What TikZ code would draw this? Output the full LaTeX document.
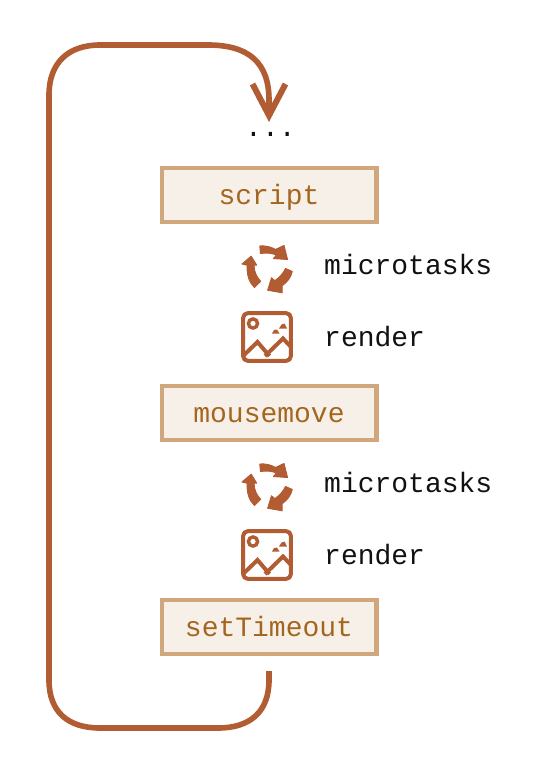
\documentclass[tikz,border=0pt]{standalone}
\usepackage{fontspec}
\setmainfont{Liberation Mono}
\definecolor{loopc}{HTML}{B15C32}
\definecolor{boxfill}{HTML}{F7F0E9}
\definecolor{boxline}{HTML}{D1A67C}
\definecolor{boxtext}{HTML}{A4661F}
\definecolor{labelc}{HTML}{111111}
\tikzset{
  x=1bp,y=-1bp,
  taskbox/.style={draw=boxline,fill=boxfill,line width=4.4bp,minimum width=214.6bp,minimum height=54bp,inner sep=0pt,text=boxtext,font=\fontsize{28bp}{28bp}\selectfont,text height=20bp,text depth=2bp,anchor=center},
  steplabel/.style={anchor=base west,inner sep=0pt,text=labelc,font=\fontsize{28bp}{28bp}\selectfont},
  looppath/.style={draw=loopc,line width=5.6bp},
  iconline/.style={draw=loopc,line width=4bp,line join=round},
  iconshape/.style={fill=loopc,draw=loopc,line width=1bp,line join=round}
}
\newcommand{\cycleicon}[2]{%
  \begin{scope}[shift={(#1,#2)}]
    \path[iconshape] (-6.7,-22) .. controls (-1,-22.5) and (5,-21) .. (9,-18.5) -- (17.5,-22.5) -- (21,-8.5) -- (7,-9.5) -- (10,-13) .. controls (5,-15) and (0,-15.5) .. (-6,-14.5) -- cycle;
    \path[iconshape] (19,0.5) -- (25.8,3.5) .. controls (24.5,9) and (21,14) .. (15.7,17.7) -- (15.7,24.8) -- (1.2,22.2) -- (5,9.8) -- (8.3,12.7) .. controls (13,9.5) and (17,5) .. (19,0.5) -- cycle;
    \path[iconshape] (-15.3,-11.8) -- (-9.8,-2.8) -- (-12.5,-2.8) .. controls (-12.5,4) and (-9.5,9.5) .. (-5.8,13.3) -- (-12,19.5) .. controls (-17,15) and (-20,7) .. (-19.3,-2.8) -- (-24.5,-4) -- cycle;
  \end{scope}}
\newcommand{\pictureicon}[2]{%
  \begin{scope}[shift={(#1,#2)}]
    \draw[iconline,rounded corners=4.5bp] (-23.8,-23.8) rectangle (23.8,23.8);
    \draw[loopc,line width=3.4bp] (-14,-13.5) circle (4.6bp);
    \draw[iconline,line join=miter] (-24,19) -- (-9.5,5) -- (2.5,19);
    \draw[iconline,line join=miter] (-2,19) -- (16,1.5) -- (24,10);
    \fill[loopc] (5,-3.5) -- (7,-7) -- (10,-7.5) -- (12.5,-3.5) -- cycle;
    \fill[loopc] (12,-8.5) -- (14.5,-12.5) -- (17.5,-13.5) -- (20,-8.5) -- cycle;
  \end{scope}}
\begin{document}
\begin{tikzpicture}
\useasboundingbox (0,0) rectangle (533,772);
\node[taskbox] (script) at (269,195) {script};
\node[taskbox] (mousemove) at (269,413) {mousemove};
\node[taskbox] (settimeout) at (269,627) {setTimeout};
\node[steplabel] (micro1) at (324,274) {microtasks};
\node[steplabel] (render1) at (324,346) {render};
\node[steplabel] (micro2) at (324,492) {microtasks};
\node[steplabel] (render2) at (324,564) {render};
\node[steplabel] (dots) at (245,136) {...};
\coordinate (loopstart) at (269,671);
\coordinate (looptip) at (269,115.5);
\coordinate (headl) at (252.5,84);
\coordinate (headr) at (285.5,84);
\draw[looppath] (loopstart) -- (269,680) .. controls (269,712) and (250,728) .. (218,728) -- (100,728) .. controls (68,728) and (49,712) .. (49,680) -- (49,95) .. controls (49,63) and (68,45) .. (100,45) -- (208,45) .. controls (248,45) and (269,62) .. (269,100) -- (looptip);
\draw[looppath,line width=6bp,line join=miter] (headl) -- (looptip) -- (headr);
\cycleicon{266.5}{268}
\pictureicon{267}{337}
\cycleicon{266.5}{486}
\pictureicon{267}{555}
\end{tikzpicture}
\end{document}
